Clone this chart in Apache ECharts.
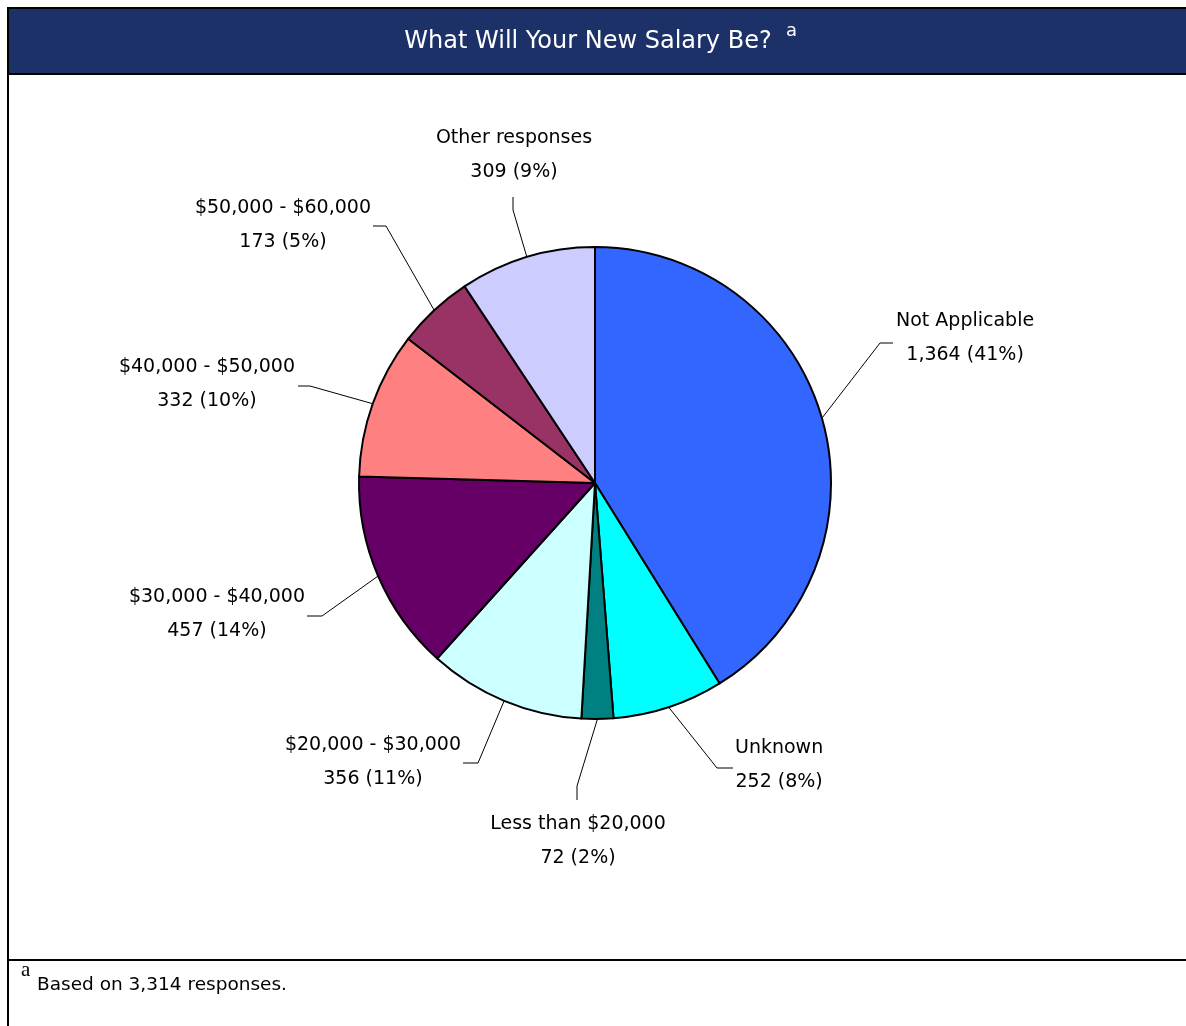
<!DOCTYPE html>
<html>
<head>
<meta charset="utf-8">
<script src="https://cdn.jsdelivr.net/npm/echarts@6/dist/echarts.min.js"></script>
<style>
html, body { margin: 0; padding: 0; background: #fff; }
#chart { width: 1186px; height: 1026px; }
</style>
</head>
<body>
<div id="chart"></div>
<script>
// data, clockwise from 12 o'clock
const categories = ['Not Applicable', 'Unknown', 'Less than $20,000', '$20,000 - $30,000',
  '$30,000 - $40,000', '$40,000 - $50,000', '$50,000 - $60,000', 'Other responses'];
const counts = [1364, 252, 72, 356, 457, 332, 173, 309];
const totalResponses = 3314;
const sliceColors = ['#3366FF', '#00FFFF', '#008080', '#CCFFFF', '#660066', '#FF8080', '#993366', '#CCCCFF'];

// where each label sits (leader bend, leader end, text anchor)
const leaders = [
  { bend: [880, 343], end: [893, 343], x: 896, y: 338, align: 'left', va: 'middle' },
  { bend: [717, 768], end: [733, 768], x: 735, y: 765, align: 'left', va: 'middle' },
  { bend: [577, 786], end: [577, 800], x: 578, y: 807, align: 'center', va: 'top' },
  { bend: [478, 763], end: [463, 763], x: 461, y: 762, align: 'right', va: 'middle' },
  { bend: [322, 616], end: [307, 616], x: 305, y: 614, align: 'right', va: 'middle' },
  { bend: [310, 386], end: [298, 386], x: 295, y: 384, align: 'right', va: 'middle' },
  { bend: [386, 226], end: [373, 226], x: 371, y: 225, align: 'right', va: 'middle' },
  { bend: [513, 210], end: [513, 197], x: 514, y: 189, align: 'center', va: 'bottom' }
];

const sum = counts.reduce((a, b) => a + b, 0);
const pieData = categories.map((name, i) => ({
  name: name,
  value: counts[i],
  itemStyle: { color: sliceColors[i] }
}));

const chart = echarts.init(document.getElementById('chart'));

const option = {
  animation: false,
  backgroundColor: '#fff',
  graphic: [
    { type: 'rect', shape: { x: 8, y: 8, width: 1190, height: 66 },
      style: { fill: '#1B3168', stroke: '#000', lineWidth: 2 } },
    { type: 'line', shape: { x1: 8, y1: 8, x2: 8, y2: 1030 },
      style: { stroke: '#000', lineWidth: 2 } },
    { type: 'line', shape: { x1: 8, y1: 960, x2: 1190, y2: 960 },
      style: { stroke: '#000', lineWidth: 2 } },
    { type: 'text', x: 588, y: 42,
      style: { text: 'What Will Your New Salary Be?', fill: '#fff', font: '24px "DejaVu Sans"',
        textAlign: 'center', textVerticalAlign: 'middle' } },
    { type: 'text', x: 786, y: 31,
      style: { text: 'a', fill: '#fff', font: '18px "DejaVu Sans"',
        textAlign: 'left', textVerticalAlign: 'middle' } },
    { type: 'text', x: 21, y: 970,
      style: { text: 'a', fill: '#000', font: '21px "Liberation Serif"',
        textAlign: 'left', textVerticalAlign: 'middle' } },
    { type: 'text', x: 37, y: 985,
      style: { text: 'Based on ' + totalResponses.toLocaleString('en-US') + ' responses.',
        fill: '#000', font: '18.5px "DejaVu Sans"', textAlign: 'left', textVerticalAlign: 'middle' } }
  ],
  series: [
    {
      type: 'pie',
      center: [595, 483],
      radius: 236,
      startAngle: 90,
      clockwise: true,
      data: pieData,
      itemStyle: { borderColor: '#000', borderWidth: 2 },
      emphasis: { disabled: true },
      label: {
        show: true,
        position: 'outside',
        formatter: function (p) {
          const pct = Math.round(p.value / sum * 100);
          return '{t|' + p.name + '}\n{t|' + p.value.toLocaleString('en-US') + ' (' + pct + '%)}';
        },
        rich: {
          t: { align: 'center', fontFamily: 'DejaVu Sans', fontSize: 19, lineHeight: 34, color: '#000' }
        }
      },
      labelLine: {
        show: true,
        length: 30,
        length2: 12,
        lineStyle: { color: '#000', width: 1 }
      },
      labelLayout: function (params) {
        const L = leaders[params.dataIndex];
        const p0 = params.labelLinePoints ? params.labelLinePoints[0] : L.bend;
        return {
          x: L.x,
          y: L.y,
          align: L.align,
          verticalAlign: L.va,
          labelLinePoints: [p0, L.bend, L.end]
        };
      }
    }
  ]
};

chart.setOption(option);
</script>
</body>
</html>
